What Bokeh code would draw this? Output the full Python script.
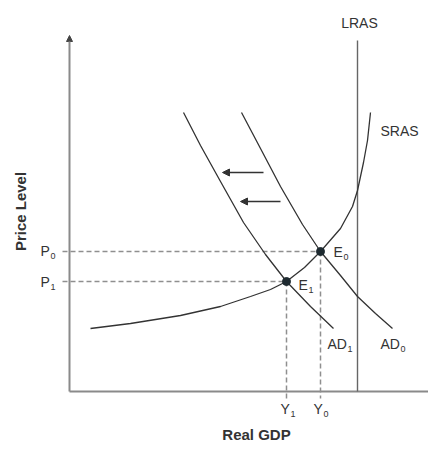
import math
from bokeh.plotting import figure
from bokeh.models import Range1d, Arrow, NormalHead
from bokeh.core.properties import value
from bokeh.embed import file_html
from bokeh.resources import INLINE

# ---------------- data (arbitrary units) ----------------
# Short-run aggregate supply
sras_gdp   = [21, 61, 111, 151, 181, 201, 217, 235, 251, 271, 283, 288, 294, 298, 301]
sras_price = [63, 68, 76, 85, 95, 102, 110, 124, 140, 163, 185, 201, 229, 251, 279]
# Aggregate demand (original) AD0
ad0_gdp   = [172, 191, 211, 233, 251, 271, 288, 306, 323]
ad0_price = [279, 243, 205, 167, 140, 116, 95, 78, 63]
# Aggregate demand (after shift) AD1
ad1_gdp   = [114, 131, 151, 174, 196, 217, 241, 264]
ad1_price = [279, 246, 210, 169, 137, 110, 85, 63]
# Long-run aggregate supply (potential GDP)
lras_gdp = 288
lras_top = 351
# Equilibria
eq_gdp   = [251, 217]   # Y0, Y1
eq_price = [140, 110]   # P0, P1
eq_subs  = ["0", "1"]
# Shift arrows (from AD0 towards AD1)
shift_y       = [219, 190]
shift_x_start = [194, 211]
shift_x_end   = [153, 171]
# Axis extents
y_axis_top = 356
x_axis_end = 367

FONT = value("Liberation Sans")
INK = "#333333"
AXIS = "#8a8a8a"
DASH = "#8f8f8f"

p = figure(width=428, height=444, output_backend="svg", toolbar_location=None,
           x_range=Range1d(-69, 359), y_range=Range1d(-53, 391),
           x_axis_location=None, y_axis_location=None, min_border=0,
           background_fill_color="white", border_fill_color="white")
p.outline_line_color = None
p.grid.visible = False

# axes
p.line([0, x_axis_end], [0, 0], line_color=AXIS, line_width=2)
p.add_layout(Arrow(end=NormalHead(size=6, fill_color="#444444", line_color="#444444"),
                   x_start=0, y_start=0, x_end=0, y_end=y_axis_top,
                   line_color=AXIS, line_width=2))

# LRAS
p.line([lras_gdp, lras_gdp], [0, lras_top], line_color="#666666", line_width=1.4)

# dashed guide lines
for g, pr in zip(eq_gdp, eq_price):
    p.line([-7, g], [pr, pr], line_color=DASH, line_width=1.5, line_dash="5 3")
    p.line([g, g], [pr, -7], line_color=DASH, line_width=1.5, line_dash="5 3")

# curves
p.line(sras_gdp, sras_price, line_color=INK, line_width=1.3)
p.line(ad0_gdp, ad0_price, line_color=INK, line_width=1.3)
p.line(ad1_gdp, ad1_price, line_color=INK, line_width=1.3)

# equilibrium points
p.scatter(eq_gdp, eq_price, size=8, fill_color="#1e2a30", line_color="#1e2a30")

# shift arrows
for y, xs, xe in zip(shift_y, shift_x_start, shift_x_end):
    p.add_layout(Arrow(end=NormalHead(size=7, fill_color=INK, line_color=INK),
                       x_start=xs, y_start=y, x_end=xe, y_end=y,
                       line_color=INK, line_width=1.3))

def txt(x, y, s, size="14px", align="left", weight="normal", angle=0.0):
    p.text([x], [y], text=[s], text_font=FONT, text_font_size=size,
           text_font_style=weight, text_color=INK, text_align=align,
           text_baseline="middle", angle=angle)

def sublabel(x, y, main, sub, gap=10):
    txt(x, y, main)
    txt(x + gap, y - 5, sub, size="9px")

# curve labels
txt(lras_gdp + 2, 369, "LRAS", align="center")
txt(330, 261, "SRAS", align="center")
sublabel(258, 48, "AD", "1", gap=20)
sublabel(311, 48, "AD", "0", gap=20)

# equilibrium labels
sublabel(eq_gdp[0] + 13, eq_price[0], "E", eq_subs[0])
sublabel(eq_gdp[1] + 12, eq_price[1] - 3, "E", eq_subs[1])
# price labels
sublabel(-29, eq_price[0] + 1, "P", "0")
sublabel(-29, eq_price[1], "P", "1")
# output labels
sublabel(eq_gdp[1] - 6, -17, "Y", "1")
sublabel(eq_gdp[0] - 7, -17, "Y", "0")

# axis titles
txt(187, -43, "Real GDP", size="15px", align="center", weight="bold")
txt(-49, 180, "Price Level", size="15px", align="center", weight="bold", angle=math.pi / 2)

open("out.html", "w").write(file_html(p, INLINE))
